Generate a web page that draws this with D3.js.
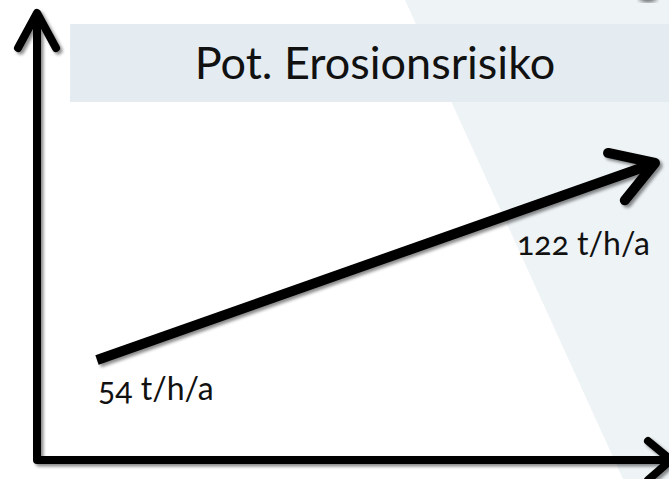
<!DOCTYPE html>
<html>
<head>
<meta charset="utf-8">
<script src="https://cdn.jsdelivr.net/npm/d3@7"></script>
<style>
html,body{margin:0;padding:0;background:#fff;}
svg{display:block;}
.lbl{font-family:Lato,"Open Sans",sans-serif;font-variant-numeric:oldstyle-nums;font-feature-settings:"onum" 1;}
</style>
</head>
<body>
<div id="chart"></div>
<script>
// Data
const title = "Pot. Erosionsrisiko";
const periods = ["Start", "Ende"];
const values = [54, 122];
const unit = "t/h/a";

const W = 669, H = 479;
const svg = d3.select("#chart").append("svg").attr("width", W).attr("height", H);

const defs = svg.append("defs");
const f = defs.append("filter").attr("id", "sh").attr("x", "-20%").attr("y", "-20%").attr("width", "140%").attr("height", "140%");
f.append("feDropShadow").attr("dx", 2.5).attr("dy", 2.5).attr("stdDeviation", 1.6)
  .attr("flood-color", "#000").attr("flood-opacity", 0.45);
const fb = defs.append("filter").attr("id", "blur");
fb.append("feGaussianBlur").attr("stdDeviation", 2.5);

// background diagonal panel
svg.append("path").attr("d", "M405,0 L623,479 L669,479 L669,0 Z").attr("fill", "#eef3f6");
svg.append("ellipse").attr("cx", 648).attr("cy", -3).attr("rx", 9).attr("ry", 5)
  .attr("fill", "#555").attr("filter", "url(#blur)");

// title band
svg.append("rect").attr("x", 70).attr("y", 24).attr("width", W - 70).attr("height", 78).attr("fill", "#e4ecf2");
svg.append("text").attr("x", 375).attr("y", 79).attr("text-anchor", "middle")
  .attr("font-family", "Lato, 'Open Sans', sans-serif").attr("font-size", 45)
  .attr("fill", "#111").text(title);

// scales
const x = d3.scalePoint().domain(periods).range([97, 655]);
const y = d3.scaleLinear().domain([d3.min(values), d3.max(values)]).range([360, 163]);

const g = svg.append("g").attr("filter", "url(#sh)")
  .attr("fill", "none").attr("stroke", "#000").attr("stroke-linecap", "round").attr("stroke-linejoin", "round");

// axes (arrows)
g.append("path").attr("stroke-width", 8).attr("stroke-linecap", "butt")
  .attr("d", "M37,13 L37,460 L668,460");
g.append("path").attr("stroke-width", 8).attr("d", "M18,48 L37,13 L56,48");
g.append("path").attr("stroke-width", 8).attr("d", "M648,441 L671,460 L648,480");

// data arrow
const x0 = x(periods[0]), y0 = y(values[0]);
const x1 = x(periods[1]), y1 = y(values[1]);
g.append("path").attr("stroke-width", 10).attr("stroke-linecap", "butt")
  .attr("d", d3.line()([[x0, y0], [x1 - 4, y1 + 1.5]]));
const ang = Math.atan2(y1 - y0, x1 - x0);
const hl = 48, ha = 0.55;
const p1 = [x1 - hl * Math.cos(ang - ha), y1 - hl * Math.sin(ang - ha)];
const p2 = [x1 - hl * Math.cos(ang + ha), y1 - hl * Math.sin(ang + ha)];
g.append("path").attr("stroke-width", 10)
  .attr("d", d3.line()([p1, [x1, y1], p2]));

// value labels
const labels = [
  {v: values[0], x: x0 + 1, y: 400, anchor: "start"},
  {v: values[1], x: 650, y: 255, anchor: "end"}
];
svg.selectAll("text.lbl").data(labels).join("text").attr("class", "lbl")
  .attr("x", d => d.x).attr("y", d => d.y).attr("text-anchor", d => d.anchor)
  .attr("font-size", 32).attr("fill", "#111")
  .text(d => d.v + " " + unit);
</script>
</body>
</html>
